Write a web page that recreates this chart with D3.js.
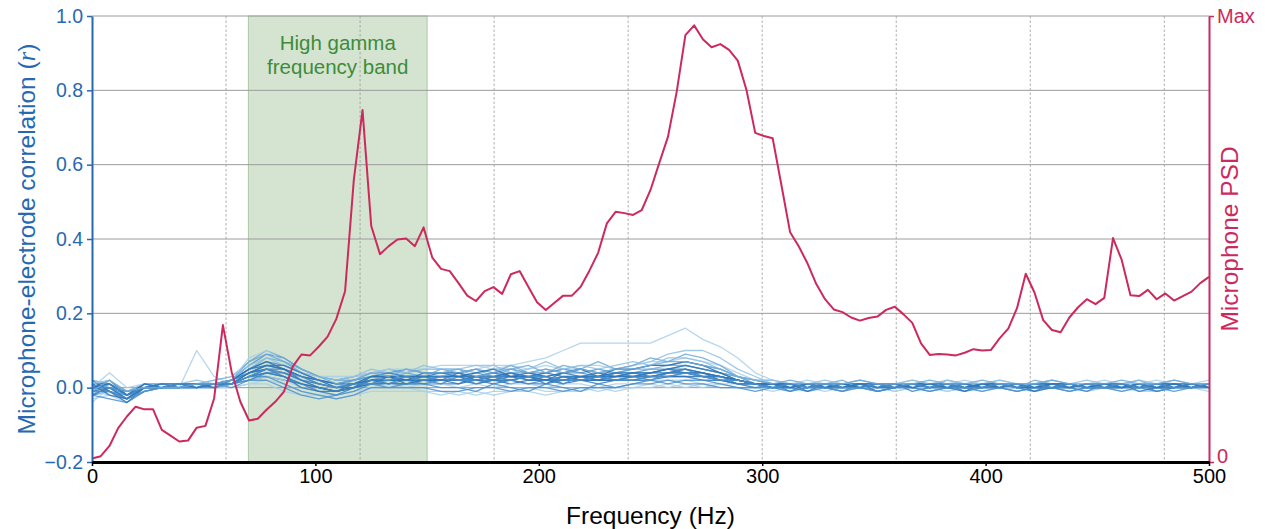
<!DOCTYPE html>
<html>
<head>
<meta charset="utf-8">
<script src="https://cdn.jsdelivr.net/npm/d3@7"></script>
<style>
  body { margin: 0; background: #fff; }
  text { font-family: "Liberation Sans", Arial, Helvetica, sans-serif; }
</style>
</head>
<body>
<svg id="chart"></svg>
<script>
// microphone PSD, fraction of max, one value per FFT bin (500/128 Hz apart)
var psdStep = 500 / 128;
var psd = [0.008,0.013,0.036,0.076,0.102,0.124,0.118,0.118,0.072,0.059,0.046,0.048,0.077,0.081,0.143,0.307,
  0.202,0.135,0.093,0.097,0.117,0.135,0.158,0.214,0.241,0.239,0.259,0.281,0.321,0.383,0.632,0.789,
  0.529,0.466,0.484,0.499,0.501,0.484,0.526,0.458,0.433,0.428,0.401,0.373,0.361,0.383,0.392,0.377,
  0.421,0.428,0.393,0.358,0.341,0.357,0.373,0.373,0.393,0.429,0.469,0.535,0.561,0.558,0.554,0.565,
  0.610,0.670,0.729,0.830,0.957,0.979,0.948,0.930,0.937,0.924,0.900,0.834,0.738,0.731,0.726,0.621,
  0.515,0.483,0.445,0.399,0.365,0.342,0.336,0.324,0.317,0.323,0.326,0.341,0.348,0.331,0.312,0.266,
  0.240,0.242,0.241,0.239,0.245,0.253,0.250,0.251,0.277,0.299,0.345,0.422,0.380,0.318,0.296,0.291,
  0.324,0.347,0.365,0.354,0.368,0.502,0.453,0.374,0.372,0.386,0.365,0.378,0.362,0.372,0.382,0.401,0.415];

// electrode correlations (r x 100), one value every 7.8125 Hz from 0 to 500
var elecStep = 500 / 64;
var electrodes = [
  [1,0,-1,0,1,1,1,1,2, 4,6,5,3,2,1,2,3,3,4,3,3, 4,5,6,6,7,8,10,12,12,12, 12,12,14,16,13,11,8,4, 2,1,1,0,1,1,0,1,1,0,1,1,1,0,1,0,1,1,0,1,0,1,1,0,1,1],
  [-1,1,-2,0,0,0,1,1,1, 3,5,4,2,1,0,1,2,2,3,3,3, 3,3,4,4,3,4,5,5,4,5, 6,7,9,10,10,8,5,3, 1,1,0,1,0,0,1,0,1,1,0,0,1,1,0,1,0,0,1,1,0,1,0,1,1,1],
  [0,1,-1,0,1,0,10,3,1, 2,4,3,2,1,0,1,2,2,2,2,2, 2,3,2,3,3,2,3,3,2,3, 3,4,4,4,3,3,2,1, 1,0,1,1,0,1,0,0,1,0,1,1,0,0,1,0,1,1,0,1,0,0,1,0,1,0],
  [1,0,-3,0,0,1,1,1,2, 6,9,8,5,3,2,3,4,4,5,4,4, 4,5,4,5,4,4,5,4,5,4, 5,6,6,7,6,5,3,2, 1,1,1,0,1,1,0,1,1,1,0,1,1,0,1,1,1,0,1,1,0,1,1,1,0,1],
  [-3,-2,-4,-1,0,0,0,0,0, 1,1,-1,-2,-2,-3,-2,-1,-1,-1,-1,-2, -1,-2,-1,-1,0,-1,-1,0,-1,0, 0,0,1,0,1,0,0,0, 0,-1,0,0,-1,0,0,-1,0,0,-1,0,-1,0,0,-1,0,0,-1,0,0,-1,-1,0,0,-1],
  [0,2,-2,0,1,1,1,1,1, 4,5,4,2,1,0,0,2,2,2,2,3, 3,2,3,3,3,2,3,2,3,3, 3,4,5,4,4,3,2,1, 1,0,1,0,1,0,1,1,0,0,1,0,1,0,0,1,0,1,0,0,1,0,0,1,0,1],
  [-2,-1,-3,-1,0,0,1,0,1, 3,4,3,1,0,-1,0,1,1,1,1,1, 1,2,1,2,1,1,2,2,1,2, 2,2,3,3,2,2,1,1, 0,0,0,1,0,0,0,0,1,0,0,0,0,1,0,0,0,0,0,1,0,0,0,0,1,0],
  [1,-1,-2,0,1,1,1,1,2, 5,7,6,4,2,1,1,3,3,3,3,3, 3,4,3,4,4,3,4,4,3,4, 4,5,5,6,5,4,3,1, 1,1,0,1,1,0,1,0,1,1,0,1,0,1,1,0,1,0,1,1,1,0,1,0,1,1],
  [0,0,-1,0,0,0,0,1,1, 2,3,2,1,0,-1,0,1,1,1,2,2, 2,1,2,1,2,2,1,2,2,2, 2,3,3,3,3,2,2,1, 0,1,0,0,1,0,0,1,0,0,0,1,0,0,1,0,0,0,1,0,0,1,0,0,0,1],
  [-1,-2,-3,-1,0,0,0,0,0, 1,2,1,-1,-2,-2,-1,0,0,0,-1,-1, -2,-1,-2,-1,-1,-2,-1,-1,0,-1, 0,1,0,1,0,1,0,0, 0,0,-1,0,0,0,-1,0,0,0,0,-1,0,0,0,-1,0,0,0,0,-1,0,0,0,0,0],
  [2,1,-1,1,1,1,1,2,3, 7,10,8,5,3,2,2,4,5,4,5,5, 5,4,5,5,4,5,4,5,4,4, 5,5,6,6,5,4,3,2, 1,1,1,1,0,1,1,1,1,0,1,1,1,1,0,1,1,1,0,1,1,1,1,0,1,1],
  [0,1,-2,0,0,1,0,1,1, 3,5,5,3,2,1,1,2,3,2,3,3, 3,3,3,2,3,3,2,3,3,3, 3,4,4,5,4,3,2,1, 1,0,0,1,0,1,0,0,1,0,1,0,0,1,0,0,1,0,1,0,0,1,0,0,1,0],
  [-4,0,-1,0,0,0,0,0,1, 2,3,2,0,-1,-2,-1,0,1,0,1,1, 0,1,0,1,1,0,1,1,0,1, 1,2,2,2,1,1,1,0, -1,0,0,-1,0,0,0,-1,0,0,-1,0,0,0,-1,0,0,0,-1,0,0,0,-1,0,0,0],
  [1,1,-2,1,1,1,1,1,2, 5,6,5,3,2,1,2,3,3,3,3,4, 4,3,4,3,3,4,3,3,4,3, 4,4,5,5,4,3,2,1, 1,1,1,0,1,1,1,0,1,1,1,0,1,1,0,1,1,1,0,1,1,0,1,1,1,0],
  [-1,0,-3,0,0,0,1,1,1, 4,6,5,3,1,0,1,2,2,2,2,2, 2,2,2,3,2,2,2,3,2,2, 3,3,4,4,3,3,2,1, 1,0,1,0,0,1,0,1,0,1,0,0,1,0,1,0,0,1,0,0,1,0,1,0,0,1],
  [0,4,0,1,1,1,1,1,2, 8,10,7,4,3,3,3,4,5,5,5,6, 6,6,5,6,5,6,5,6,6,5, 6,7,7,8,7,6,4,2, 2,1,2,1,1,2,1,1,2,1,1,2,1,2,1,1,2,1,1,2,1,1,2,1,1,2],
  [-2,-3,-4,-1,0,0,0,0,1, 3,3,1,-1,-2,-3,-2,0,0,0,0,-1, -1,0,0,-1,0,0,-1,0,0,0, 1,1,2,1,1,0,0,0, 0,0,-1,0,0,0,-1,0,0,-1,0,0,0,0,-1,0,0,-1,0,0,0,0,-1,0,0,0],
  [0,-1,-3,1,0,1,0,1,1, 2,4,3,1,-1,-2,0,2,1,3,2,1, 3,1,2,4,2,3,1,3,2,4, 3,2,4,5,3,2,1,0, 1,-1,1,0,-1,1,0,1,-1,0,1,-1,0,1,0,-1,1,0,-1,1,0,1,-1,0,1,0],
  [-2,1,-2,0,1,0,1,0,1, 5,8,7,4,2,0,2,3,2,4,3,5, 4,5,3,5,6,4,6,5,7,5, 6,8,7,9,8,6,3,1, 0,1,0,1,2,0,1,0,1,0,2,1,0,1,0,2,1,0,1,0,1,2,0,1,0,1],
  [2,-1,-4,0,0,1,1,0,2, 4,5,3,0,-1,-1,1,1,3,1,2,2, 1,3,2,2,3,1,3,2,2,3, 4,3,4,4,4,2,1,1, 0,1,-1,1,0,1,-1,0,1,1,0,-1,1,0,1,-1,0,1,0,0,1,-1,0,1,0,1],
  [1,2,-1,0,1,1,2,1,2, 6,8,6,4,3,2,3,5,4,4,6,5, 5,6,6,4,5,7,5,6,5,6, 7,6,8,8,7,5,3,2, 2,1,1,2,1,2,1,1,2,1,2,1,1,2,1,1,2,1,2,1,1,2,1,2,1,1],
  [-1,-1,-3,-1,0,0,0,1,0, 2,2,0,-2,-3,-2,-1,1,0,1,1,0, 0,-1,1,0,-1,1,0,-1,1,0, 1,2,1,2,2,1,0,-1, 0,-1,0,0,-1,0,-1,0,0,-1,0,0,-1,0,-1,0,0,-1,0,0,-1,0,0,-1,0,0],
  [0,1,-2,1,0,1,1,1,2, 5,7,5,2,0,-1,0,3,3,2,4,4, 3,4,5,3,4,3,4,5,3,5, 5,6,6,7,6,4,2,1, 1,1,0,1,1,0,1,1,0,1,1,0,1,1,1,0,1,1,0,1,1,0,1,1,0,1],
  [-2,0,-2,0,1,0,1,1,1, 3,4,4,2,0,-1,0,2,1,2,1,2, 2,3,2,2,1,2,3,2,3,2, 3,3,3,4,3,3,1,1, 0,0,1,0,0,1,0,0,1,0,0,1,0,0,1,0,0,0,1,0,0,1,0,0,1,0],
  [1,-2,-3,0,1,1,0,1,1, 4,6,6,4,2,0,1,3,4,3,3,2, 4,2,3,4,3,2,4,3,3,4, 4,4,5,6,5,4,2,1, 1,0,1,1,0,1,1,0,1,0,1,1,0,1,0,1,1,0,1,1,0,1,0,1,1,0],
  [0,0,-1,0,0,1,1,1,1, 3,5,4,3,1,0,1,1,2,3,2,3, 2,2,3,2,3,3,2,2,3,2, 2,3,3,4,3,2,2,1, 0,1,0,1,0,0,1,0,1,0,1,0,0,1,0,1,0,1,0,0,1,0,1,0,0,1],
  [-1,2,-1,0,0,0,1,1,2, 7,9,7,5,3,1,2,4,3,5,4,4, 5,3,4,6,4,5,4,5,4,5, 5,6,7,7,6,5,3,2, 1,2,1,1,1,2,1,1,1,2,1,1,2,1,1,1,2,1,1,1,2,1,1,2,1,1]
];
var elecColors = ["#a9cfea","#8fbfe2","#a9cfea","#4b91cb","#a9cfea","#2f77b9","#2f77b9","#4b91cb","#2a72b5",
  "#a9cfea","#6fa9d6","#2f77b9","#a9cfea","#2a72b5","#2f77b9","#a9cfea","#4b91cb",
  "#3c84c3","#6fa9d6","#2f77b9","#8fbfe2","#4b91cb","#2a72b5","#3c84c3","#2f77b9","#4b91cb","#6fa9d6"];

var ticksR = [-0.2, 0, 0.2, 0.4, 0.6, 0.8, 1.0];
var ticksFreq = [0, 100, 200, 300, 400, 500];
var lineNoise = [60, 120, 180, 240, 300, 360, 420, 480];
var gammaBand = [70, 150];

var width = 1265, height = 529;
var margin = {top: 16, right: 56, bottom: 67, left: 92};
var blue = "#2669b1", red = "#cc2a5c";

var svg = d3.select("#chart").attr("width", width).attr("height", height);

var x = d3.scaleLinear().domain([0, 500]).range([margin.left, width - margin.right]);
var y = d3.scaleLinear().domain([-0.2, 1.0]).range([height - margin.bottom, margin.top]);
var yPsd = d3.scaleLinear().domain([0, 1]).range([height - margin.bottom, margin.top]);

// band for high gamma
svg.append("rect")
  .attr("x", x(gammaBand[0])).attr("y", margin.top)
  .attr("width", x(gammaBand[1]) - x(gammaBand[0]))
  .attr("height", y(-0.2) - margin.top)
  .attr("fill", "#d4e4d1").attr("stroke", "#abc8a7").attr("stroke-width", 1);

// horizontal grid
svg.append("g").selectAll("line")
  .data(ticksR.filter(d => d > -0.2))
  .join("line")
    .attr("x1", x(0)).attr("x2", x(500))
    .attr("y1", d => y(d)).attr("y2", d => y(d))
    .attr("stroke", "#9c9c9c").attr("stroke-width", 1);

// 60 Hz harmonics
svg.append("g").selectAll("line")
  .data(lineNoise)
  .join("line")
    .attr("x1", d => x(d)).attr("x2", d => x(d))
    .attr("y1", margin.top).attr("y2", y(-0.2))
    .attr("stroke", "#9a9a9a").attr("stroke-width", 0.8)
    .attr("stroke-dasharray", "2.5,2");

svg.append("text")
  .attr("x", x(110)).attr("y", 50)
  .attr("text-anchor", "middle").attr("font-size", 20.5).attr("fill", "#3d8c3a")
  .call(t => t.append("tspan").attr("x", x(110)).text("High gamma"))
  .call(t => t.append("tspan").attr("x", x(110)).attr("dy", 23.5).text("frequency band"));

// electrodes
var elecLine = d3.line()
  .x((d, i) => x(i * elecStep))
  .y(d => y(d / 100));

svg.append("g")
  .attr("fill", "none")
  .selectAll("path")
  .data(electrodes)
  .join("path")
    .attr("d", elecLine)
    .attr("stroke", (d, i) => elecColors[i])
    .attr("stroke-width", 1.3)
    .attr("stroke-opacity", 0.85)
    .attr("stroke-linejoin", "round");

// microphone PSD
var psdLine = d3.line()
  .x((d, i) => x(i * psdStep))
  .y(d => yPsd(d));

svg.append("path")
  .datum(psd)
  .attr("d", psdLine)
  .attr("fill", "none")
  .attr("stroke", red)
  .attr("stroke-width", 2)
  .attr("stroke-linejoin", "round");

// left axis
var fmtR = d => (d < 0 ? "\u2212" : "") + Math.abs(d).toFixed(1);
var gLeft = svg.append("g")
  .attr("transform", `translate(${margin.left},0)`)
  .call(d3.axisLeft(y).tickValues(ticksR).tickFormat(fmtR).tickSize(5).tickPadding(4).tickSizeOuter(0));
gLeft.select(".domain").attr("stroke", blue).attr("stroke-width", 2);
gLeft.selectAll(".tick line").attr("stroke", blue).attr("stroke-width", 1.5);
gLeft.selectAll(".tick text").attr("fill", blue).attr("font-size", 19.5).attr("font-family", null);

svg.append("text")
  .attr("transform", `translate(35,${(margin.top + y(-0.2)) / 2}) rotate(-90)`)
  .attr("text-anchor", "middle").attr("font-size", 24.5).attr("fill", blue)
  .call(t => t.append("tspan").text("Microphone-electrode correlation ("))
  .call(t => t.append("tspan").attr("font-style", "italic").attr("font-family", "'Liberation Serif', serif").text("r"))
  .call(t => t.append("tspan").text(")"));

// right axis
var gRight = svg.append("g")
  .attr("transform", `translate(${width - margin.right},0)`)
  .call(d3.axisRight(yPsd).tickValues([0, 1]).tickFormat(d => d ? "Max" : "0").tickSize(5).tickPadding(3).tickSizeOuter(0));
gRight.select(".domain").attr("stroke", red).attr("stroke-width", 2);
gRight.selectAll(".tick line").attr("stroke", red).attr("stroke-width", 1.5);
gRight.selectAll(".tick text").attr("fill", red).attr("font-size", 20).attr("font-family", null)
  .attr("dy", d => d ? "0.32em" : "0.02em");

svg.append("text")
  .attr("transform", `translate(1238,${(margin.top + y(-0.2)) / 2}) rotate(-90)`)
  .attr("text-anchor", "middle").attr("font-size", 24.5).attr("fill", red)
  .text("Microphone PSD");

// bottom axis
var gBottom = svg.append("g")
  .attr("transform", `translate(0,${height - margin.bottom})`)
  .call(d3.axisBottom(x).tickValues(ticksFreq).tickSize(4).tickPadding(3).tickSizeOuter(0));
gBottom.select(".domain").attr("stroke", "#000").attr("stroke-width", 3);
gBottom.selectAll(".tick line").attr("stroke", "#000").attr("stroke-width", 1.5);
gBottom.selectAll(".tick text").attr("fill", "#000").attr("font-size", 20).attr("font-family", null);

svg.append("text")
  .attr("x", (x(0) + x(500)) / 2).attr("y", 524)
  .attr("text-anchor", "middle").attr("font-size", 24.5).attr("fill", "#000")
  .text("Frequency (Hz)");
</script>
</body>
</html>
